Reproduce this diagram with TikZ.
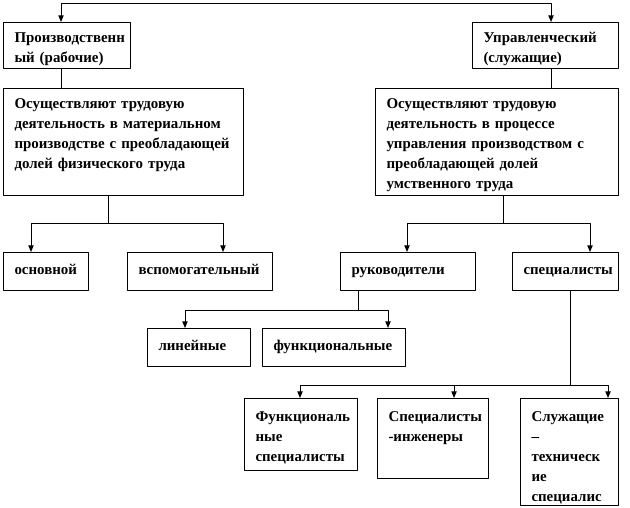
\documentclass[tikz,border=0pt]{standalone}
\usepackage{fontspec}
\setmainfont{Liberation Serif}
\usetikzlibrary{arrows.meta}
\begin{document}
\begin{tikzpicture}[x=0.75pt, y=-0.75pt, font=\bfseries\fontsize{11.2}{15}\selectfont, line join=round, line width=0.75pt, >={Triangle[width=4pt,length=5pt]}]
		\tikzset{cell/.style={draw, anchor=north west, align=left, inner xsep=8.25pt, inner ysep=0pt, text height=15pt}}
		\tikzset{low/.style={cell, text height=16.5pt, text depth=12pt}}
		\tikzset{tall/.style={cell, text height=17.25pt}}
		\useasboundingbox (0,0) rectangle (630,507);
		\node[cell, text width=78.75pt, text depth=19.5pt] (A) at (3,22) {Производственн\\ый (рабочие)};
		\node[cell, text width=93pt, text depth=19.5pt] (B) at (472,22) {Управленческий\\(служащие)};
		\node[cell, text width=163.5pt, text depth=65.25pt] (C) at (3,88) {Осуществляют трудовую\\деятельность в материальном\\производстве с преобладающей\\долей физического труда};
		\node[cell, text width=165.75pt, text depth=65.25pt] (D) at (375,88) {Осуществляют трудовую\\деятельность в процессе\\управления производством с\\преобладающей долей\\умственного труда};
		\node[low, text width=47.25pt] (osn) at (3,252) {основной};
		\node[low, text width=92.25pt] (vsp) at (127,252) {вспомогательный};
		\node[low, text width=84.75pt] (ruk) at (340,252) {руководители};
		\node[low, text width=63pt] (spec) at (512,252) {специалисты};
		\node[low, text width=60.75pt] (lin) at (147,328) {линейные};
		\node[low, text width=90.75pt] (fun) at (262,328) {функциональные};
		\node[tall, text width=68.25pt, text depth=36.75pt] (fsp) at (244,398) {Функциональ\\ные\\специалисты};
		\node[tall, text width=66.75pt, text depth=42.75pt] (ing) at (377,398) {Специалисты\\-инженеры};
		\node[tall, text width=57pt, text depth=63pt] (tech) at (520,398) {Служащие\\--\\техническ\\ие\\специалис};
		\coordinate (tl) at (61,3);
		\coordinate (tr) at (551,3);
		\draw[<->] (tl |- A.north) -- (tl) -- (tr) -- (tr |- B.north);
		\draw (tl |- A.south) -- (tl |- C.north);
		\draw (tr |- B.south) -- (tr |- D.north);
		\coordinate (cj) at (108,223);
		\coordinate (cl) at (31,223);
		\coordinate (cr) at (223,223);
		\draw (cj |- C.south) -- (cj);
		\draw[<->] (cl |- osn.north) -- (cl) -- (cr) -- (cr |- vsp.north);
		\coordinate (dj) at (503,223);
		\coordinate (dl) at (407,223);
		\coordinate (dr) at (590,223);
		\draw (dj |- D.south) -- (dj);
		\draw[<->] (dl |- ruk.north) -- (dl) -- (dr) -- (dr |- spec.north);
		\coordinate (rj) at (358,310);
		\coordinate (rl) at (185,310);
		\coordinate (rr) at (388,310);
		\draw (rj |- ruk.south) -- (rj);
		\draw[<->] (rl |- lin.north) -- (rl) -- (rr) -- (rr |- fun.north);
		\coordinate (sj) at (570,385);
		\coordinate (sl) at (300,385);
		\coordinate (sm) at (454,385);
		\coordinate (sr) at (608,385);
		\draw (sj |- spec.south) -- (sj);
		\draw[<->] (sl |- fsp.north) -- (sl) -- (sr) -- (sr |- tech.north);
		\draw[->] (sm) -- (sm |- ing.north);
\end{tikzpicture}
\end{document}
